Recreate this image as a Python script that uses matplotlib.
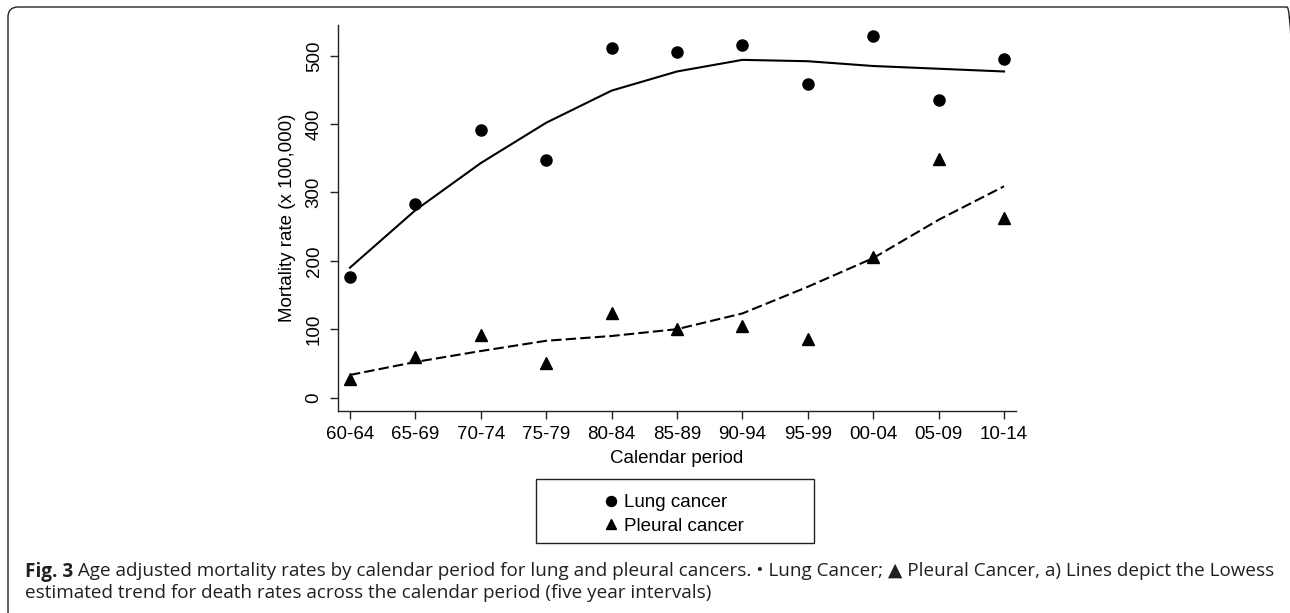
import matplotlib
matplotlib.use('Agg')
import matplotlib.pyplot as plt
from matplotlib.patches import FancyBboxPatch, Rectangle
from matplotlib.transforms import IdentityTransform

# ---------------- data ----------------
periods = ['60-64', '65-69', '70-74', '75-79', '80-84', '85-89',
           '90-94', '95-99', '00-04', '05-09', '10-14']
lung_rate = [177, 283, 391, 347, 511, 506, 516, 459, 529, 435, 495]
lung_lowess = [190, 274, 343, 402, 449, 477, 494, 492, 485, 481, 477]
pleural_rate = [27, 60, 91, 51, 123, 100, 105, 85, 205, 349, 262]
pleural_lowess = [33, 52, 68, 83, 90, 100, 123, 162, 204, 260, 309]
yticks = [0, 100, 200, 300, 400, 500]
series_labels = ['Lung cancer', 'Pleural cancer']
xlabel = 'Calendar period'
ylabel = 'Mortality rate (x 100,000)'
caption_bold = 'Fig. 3'
caption_line1 = (' Age adjusted mortality rates by calendar period for lung and pleural '
                 'cancers. \u2022 Lung Cancer; \u25b2 Pleural Cancer, a) Lines depict the Lowess')
caption_line2 = 'estimated trend for death rates across the calendar period (five year intervals)'

W, H = 1290, 613
plt.rcParams['font.family'] = ['Liberation Sans', 'DejaVu Sans']
fig = plt.figure(figsize=(W / 100, H / 100), dpi=100)

def fx(x):
    return x / W

def fy(y):
    return 1 - y / H

# outer rounded frame (pixel coordinates, origin bottom-left)
frame = FancyBboxPatch((8, H - 622), 1297 - 8, 622 - 7,
                       boxstyle='round,pad=0,rounding_size=10',
                       transform=IdentityTransform(), fill=False,
                       edgecolor='#222222', linewidth=1.0)
fig.patches.append(frame)

# ---------------- axes ----------------
ax_l, ax_r, ax_t, ax_b = 338, 1016, 25, 410.5
ax = fig.add_axes([fx(ax_l), fy(ax_b), fx(ax_r) - fx(ax_l), fy(ax_t) - fy(ax_b)])
x = list(range(len(periods)))

ax.plot(x, lung_lowess, color='black', lw=1.5, solid_joinstyle='round')
ax.plot(x, pleural_lowess, color='black', lw=1.5, dashes=(5, 2))
h1, = ax.plot(x, lung_rate, linestyle='none', marker='o', ms=8, color='black')
h2, = ax.plot(x, pleural_rate, linestyle='none', marker='^', ms=8.5, color='black')

ax.set_xlim(-0.183, 10.183)
ax.set_ylim(-19, 545)
ax.set_xticks(x)
ax.set_xticklabels(periods)
ax.set_yticks(yticks)
ax.set_yticklabels([str(v) for v in yticks], rotation=90, va='center')
for s in ['top', 'right']:
    ax.spines[s].set_visible(False)
for s in ['left', 'bottom']:
    ax.spines[s].set_linewidth(1.0)
    ax.spines[s].set_color('#222222')
ax.tick_params(axis='both', length=6, width=1.0, color='#222222',
               labelsize=13.5, labelcolor='black')
ax.tick_params(axis='x', pad=5.5)
ax.tick_params(axis='y', pad=5)
ax.set_xlabel(xlabel, fontsize=13.5, labelpad=5)
ax.set_ylabel(ylabel, fontsize=13.5, va='center')
ax.yaxis.set_label_coords((287 - ax_l) / (ax_r - ax_l), 0.5)

# ---------------- legend ----------------
lg_l, lg_r, lg_t, lg_b = 536, 814, 479, 543
fig.patches.append(Rectangle((fx(lg_l), fy(lg_b)), fx(lg_r) - fx(lg_l), fy(lg_t) - fy(lg_b),
                             transform=fig.transFigure, fill=False,
                             edgecolor='#222222', linewidth=1.0))
fig.legend([h1, h2], series_labels, loc='center',
           bbox_to_anchor=(fx((lg_l + lg_r) / 2), fy(514.5)),
           frameon=False, fontsize=13.5, handlelength=0.6, handletextpad=0.4,
           labelspacing=0.36, borderpad=0.0, markerscale=0.9)

# ---------------- caption ----------------
cap_color = '#231f20'
cap_font = ['Open Sans', 'DejaVu Sans']
target_w = 1272 - 25
size = 12.5
renderer = fig.canvas.get_renderer()
for _ in range(3):
    tb = fig.text(fx(25), fy(576.5), caption_bold, fontsize=size, fontweight='bold',
                  family=cap_font, color=cap_color, va='baseline', ha='left')
    bb = tb.get_window_extent(renderer)
    tr = fig.text(bb.x1 / W, fy(576.5), caption_line1, fontsize=size,
                  family=cap_font, color=cap_color, va='baseline', ha='left')
    bb2 = tr.get_window_extent(renderer)
    total = bb2.x1 - bb.x0
    tb.remove(); tr.remove()
    size = size * target_w / total

tb = fig.text(fx(25), fy(576.5), caption_bold, fontsize=size, fontweight='bold',
              family=cap_font, color=cap_color, va='baseline', ha='left')
bb = tb.get_window_extent(renderer)
fig.text(bb.x1 / W, fy(576.5), caption_line1, fontsize=size,
         family=cap_font, color=cap_color, va='baseline', ha='left')
fig.text(fx(25), fy(598), caption_line2, fontsize=size,
         family=cap_font, color=cap_color, va='baseline', ha='left')

fig.savefig('out.png', dpi=100)
